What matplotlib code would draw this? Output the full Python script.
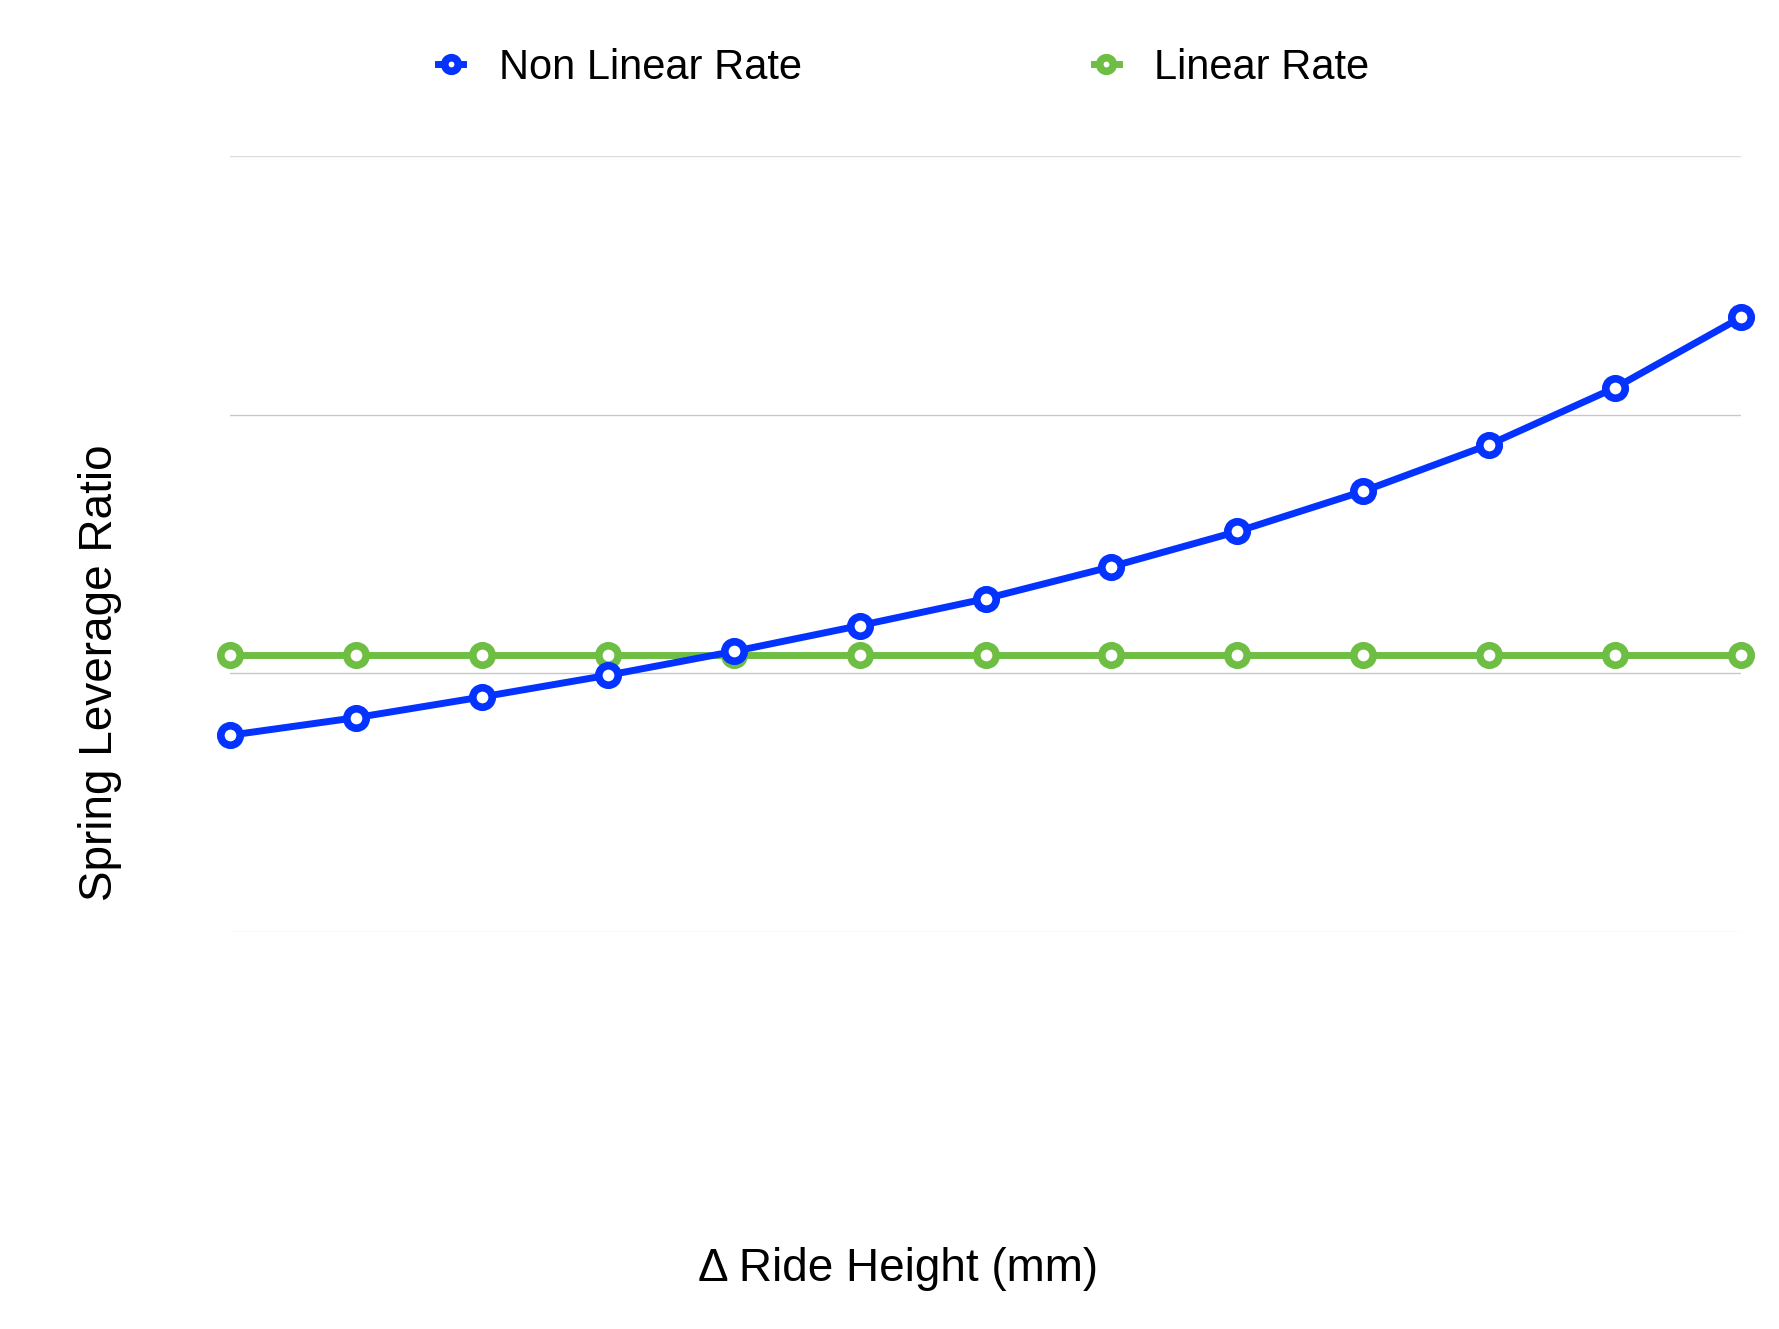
import numpy as np
import matplotlib
matplotlib.use("Agg")
from matplotlib import pyplot as plt

plt.rcParams['font.family'] = ['Liberation Sans', 'DejaVu Sans']

# ride height steps (mm) - no tick labels shown in the original
ride_height = [0, 10, 20, 30, 40, 50, 60, 70, 80, 90, 100, 110, 120]

# spring leverage ratio
non_linear = [0.690, 0.707, 0.727, 0.748, 0.771, 0.796, 0.822, 0.853, 0.887, 0.926, 0.971, 1.026, 1.094]
linear = [0.768] * 13

grid_vals = [0.5, 0.75, 1.0, 1.25]
grid_cols = ['#e6e6e6', '#c8c8c8', '#c8c8c8', '#dcdcdc']

BLUE = '#0433ff'
GREEN = '#6fbe44'

fig = plt.figure(figsize=(17.79, 13.29), dpi=100)
ax = fig.add_axes([0.1293, 0.2989, 0.8494, 0.5837])

for g, c in zip(grid_vals, grid_cols):
    ax.axhline(g, color=c, lw=1.0, zorder=0)

ax.plot(ride_height, linear, '-o', color=GREEN, lw=5, ms=14, mew=5.5,
        mfc='white', mec=GREEN, label='Linear Rate', clip_on=False, zorder=3)
ax.plot(ride_height, non_linear, '-o', color=BLUE, lw=5, ms=14, mew=5.5,
        mfc='white', mec=BLUE, label='Non Linear Rate', clip_on=False, zorder=4)

ax.set_xlim(ride_height[0], ride_height[-1])
ax.set_ylim(grid_vals[0], grid_vals[-1])
ax.set_xticks([])
ax.set_yticks([])
for s in ax.spines.values():
    s.set_visible(False)

h, l = ax.get_legend_handles_labels()
fig.legend(h[::-1], l[::-1], loc='center', bbox_to_anchor=(0.508, 0.949), ncol=2,
           frameon=False, fontsize=30, handlelength=0.6, handletextpad=0.85,
           columnspacing=7.0, markerscale=0.7)

fig.text(0.505, 0.045, 'Δ Ride Height (mm)', fontsize=33, ha='center', va='center')
fig.text(0.0563, 0.4936, 'Spring Leverage Ratio', fontsize=33, ha='center', va='center',
         rotation=90)

fig.savefig('out.png', dpi=100)
